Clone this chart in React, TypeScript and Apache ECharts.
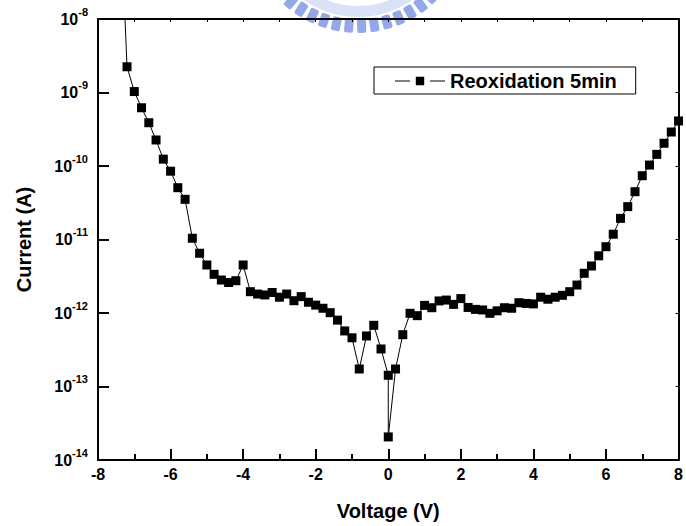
import React, { useEffect, useRef } from "react";
import * as echarts from "echarts";

const voltage = [
  -7.4, -7.2, -7.0, -6.8, -6.6, -6.4, -6.2, -6.0, -5.8, -5.6, -5.4, -5.2, -5.0, -4.8, -4.6, -4.4, -4.2, -4.0,
  -3.8, -3.6, -3.4, -3.2, -3.0, -2.8, -2.6, -2.4, -2.2, -2.0, -1.8, -1.6, -1.4, -1.2, -1.0, -0.8, -0.6, -0.4,
  -0.2, 0, 0, 0.2, 0.4, 0.6, 0.8, 1.0, 1.2, 1.4, 1.6, 1.8, 2.0, 2.2, 2.4, 2.6, 2.8, 3.0, 3.2, 3.4, 3.6, 3.8,
  4.0, 4.2, 4.4, 4.6, 4.8, 5.0, 5.2, 5.4, 5.6, 5.8, 6.0, 6.2, 6.4, 6.6, 6.8, 7.0, 7.2, 7.4, 7.6, 7.8, 8.0,
];

const current = [
  5e-7, 2.24e-9, 1.03e-9, 6.2e-10, 3.88e-10, 2.26e-10, 1.24e-10, 8.5e-11, 5.07e-11, 3.52e-11, 1.04e-11, 6.5e-12,
  4.5e-12, 3.36e-12, 2.81e-12, 2.6e-12, 2.75e-12, 4.5e-12, 1.95e-12, 1.81e-12, 1.76e-12, 1.9e-12, 1.64e-12,
  1.81e-12, 1.47e-12, 1.67e-12, 1.4e-12, 1.28e-12, 1.16e-12, 1.01e-12, 8.0e-13, 5.7e-13, 4.6e-13, 1.73e-13,
  4.87e-13, 6.8e-13, 3.24e-13, 1.42e-13, 2.06e-14, 1.73e-13, 5.07e-13, 9.9e-13, 9.2e-13, 1.27e-12, 1.18e-12,
  1.46e-12, 1.5e-12, 1.31e-12, 1.57e-12, 1.19e-12, 1.12e-12, 1.1e-12, 9.9e-13, 1.07e-12, 1.18e-12, 1.16e-12,
  1.38e-12, 1.35e-12, 1.33e-12, 1.64e-12, 1.54e-12, 1.64e-12, 1.74e-12, 1.95e-12, 2.4e-12, 3.47e-12, 4.36e-12,
  6.0e-12, 7.98e-12, 1.18e-11, 1.94e-11, 2.8e-11, 4.47e-11, 7.38e-11, 1.03e-10, 1.44e-10, 2.04e-10, 2.9e-10,
  4.1e-10,
];

const seriesName = "Reoxidation 5min";
const xAxisName = "Voltage (V)";
const yAxisName = "Current (A)";
const xMin = -8;
const xMax = 8;
const yMin = 1e-14;
const yMax = 1e-8;

const FONT = "'Liberation Sans', Arial, Helvetica, sans-serif";

// legend icon: line - gap - square - gap - line
const LEGEND_ICON = "path://M0,3.7H15V4.7H0Z M20.8,0H29.2V8.4H20.8Z M35,3.7H50V4.7H35Z";

// watermark teeth angles (degrees)
const toothAngles = [-47, -40, -33, -26, -19, -12, -5, 2, 9, 16, 23, 30, 37, 44];

export default function App() {
  const ref = useRef<HTMLDivElement>(null);

  useEffect(() => {
    if (!ref.current) return;
    const chart = echarts.init(ref.current, null, { renderer: "svg" });
    const data = voltage.map((v, i) => [v, current[i]]);

    const teeth = toothAngles.map((a) => ({
      type: "rect",
      rotation: (a * Math.PI) / 180,
      shape: { x: -4.5, y: 97, width: 9, height: 14, r: 2 },
      style: { fill: "#94a7e8" },
      z: -5,
      silent: true,
    }));

    chart.setOption({
      animation: false,
      backgroundColor: "#ffffff",
      textStyle: { fontFamily: FONT },
      graphic: [
        {
          type: "group",
          x: 358,
          y: -78,
          z: -5,
          silent: true,
          children: [
            {
              type: "ring",
              shape: { cx: 0, cy: 0, r: 95, r0: 84 },
              style: { fill: "#dbe2f8" },
              z: -6,
            },
            ...teeth,
          ],
        },
      ],
      grid: { left: 98, right: 3, top: 19, bottom: 66, containLabel: false },
      legend: {
        show: true,
        data: [{ name: seriesName, icon: LEGEND_ICON }],
        left: 374,
        top: 67,
        itemWidth: 50,
        itemHeight: 8.4,
        itemStyle: { color: "#000", borderWidth: 0 },
        padding: [4, 19, 3, 21],
        borderColor: "#000",
        borderWidth: 1,
        backgroundColor: "#fff",
        textStyle: { fontFamily: FONT, fontSize: 20, fontWeight: "bold", color: "#000" },
      },
      xAxis: [
        {
          type: "value",
          position: "bottom",
          min: xMin,
          max: xMax,
          interval: 2,
          name: xAxisName,
          nameLocation: "middle",
          nameGap: 41,
          nameTextStyle: { fontFamily: FONT, fontSize: 20, fontWeight: "bold", color: "#000" },
          axisLine: { show: true, onZero: false, lineStyle: { color: "#000", width: 2 } },
          axisTick: { show: true, inside: true, length: 11, lineStyle: { color: "#000", width: 2 } },
          minorTick: { show: true, splitNumber: 2, length: 6, lineStyle: { color: "#000", width: 2 } },
          axisLabel: {
            show: true,
            margin: 6,
            fontFamily: FONT,
            fontSize: 16,
            fontWeight: "bold",
            color: "#000",
            showMinLabel: true,
            showMaxLabel: true,
          },
          splitLine: { show: false },
        },
        {
          type: "value",
          position: "top",
          min: xMin,
          max: xMax,
          interval: 1,
          axisLine: { show: true, onZero: false, lineStyle: { color: "#000", width: 2 } },
          axisTick: { show: true, inside: true, length: 3, lineStyle: { color: "#000", width: 1 } },
          axisLabel: { show: false },
          splitLine: { show: false },
        },
      ],
      yAxis: [
        {
          type: "log",
          logBase: 10,
          position: "left",
          min: yMin,
          max: yMax,
          splitNumber: 6,
          name: yAxisName,
          nameLocation: "middle",
          nameGap: 64,
          nameTextStyle: { fontFamily: FONT, fontSize: 20, fontWeight: "bold", color: "#000" },
          axisLine: { show: true, onZero: false, lineStyle: { color: "#000", width: 2 } },
          axisTick: { show: true, inside: true, length: 11, lineStyle: { color: "#000", width: 2 } },
          axisLabel: {
            show: true,
            margin: 10,
            showMinLabel: true,
            showMaxLabel: true,
            formatter: (v: number) => {
              const e = Math.round(Math.log10(v));
              return `{b|10}{s|${e}}`;
            },
            rich: {
              b: { fontFamily: FONT, fontSize: 16, fontWeight: "bold", color: "#000" },
              s: {
                fontFamily: FONT,
                fontSize: 11,
                fontWeight: "bold",
                color: "#000",
                padding: [0, 0, 15, 0],
              },
            },
          },
          splitLine: { show: false },
        },
        {
          type: "log",
          logBase: 10,
          position: "right",
          min: yMin,
          max: yMax,
          splitNumber: 6,
          axisLine: { show: true, onZero: false, lineStyle: { color: "#000", width: 2 } },
          axisTick: { show: true, inside: true, length: 3, lineStyle: { color: "#000", width: 1 } },
          axisLabel: { show: false },
          splitLine: { show: false },
        },
      ],
      series: [
        {
          name: seriesName,
          type: "line",
          xAxisIndex: 0,
          yAxisIndex: 0,
          data,
          clip: true,
          symbol: "rect",
          symbolSize: 9,
          showSymbol: true,
          showAllSymbol: true,
          itemStyle: { color: "#000" },
          lineStyle: { color: "#000", width: 1 },
          z: 3,
        },
      ],
    });

    return () => {
      chart.dispose();
    };
  }, []);

  return (
    <div
      ref={ref}
      style={{ position: "fixed", left: 0, top: 0, width: 686, height: 526, background: "#fff" }}
    />
  );
}
